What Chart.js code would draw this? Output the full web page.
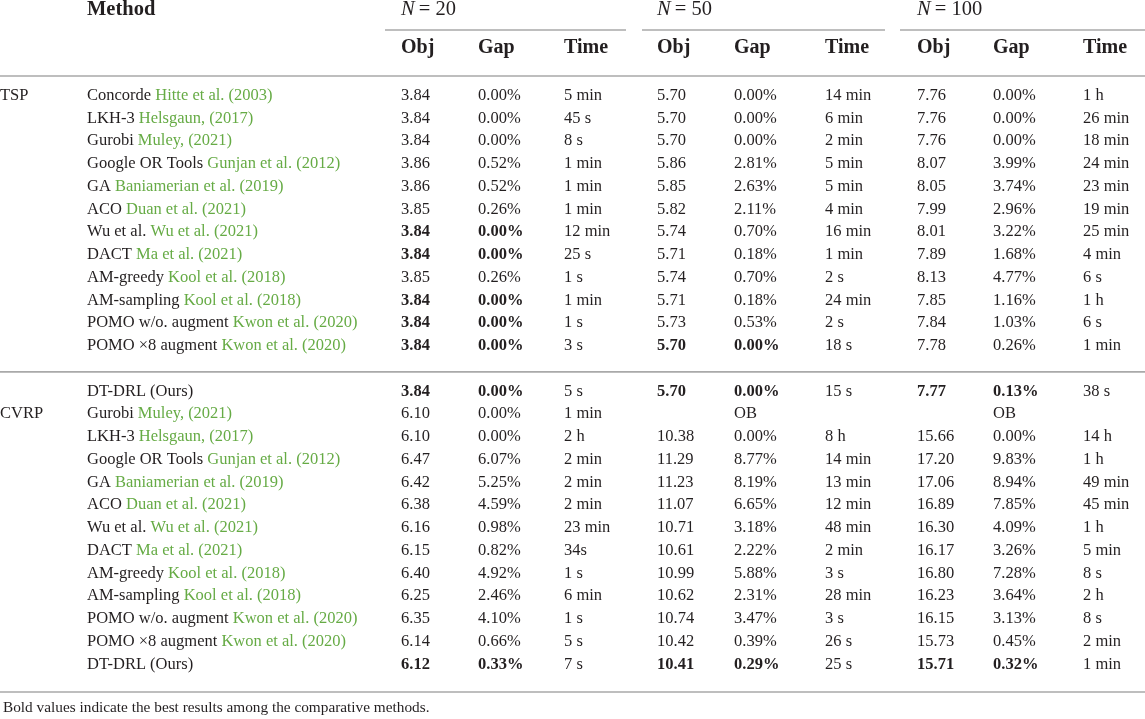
<!DOCTYPE html>
<html>
<head>
<meta charset="utf-8">
<script src="https://cdn.jsdelivr.net/npm/chart.js@4.4.0/dist/chart.umd.min.js"></script>
<style>
  html, body { margin: 0; padding: 0; background: #fff; }
  #wrap { width: 1145px; height: 719px; position: relative; }
</style>
</head>
<body>
<div id="wrap"><canvas id="tableChart"></canvas></div>
<script>
/* ══════════════════════════════
   TABLE DATA
══════════════════════════════ */
const methods = [
  'Concorde', 'LKH-3', 'Gurobi', 'Google OR Tools', 'GA', 'ACO', 'Wu et al.', 'DACT',
  'AM-greedy', 'AM-sampling', 'POMO w/o. augment', 'POMO \u00d78 augment',
  'DT-DRL (Ours)', 'Gurobi', 'LKH-3', 'Google OR Tools', 'GA', 'ACO', 'Wu et al.', 'DACT',
  'AM-greedy', 'AM-sampling', 'POMO w/o. augment', 'POMO \u00d78 augment', 'DT-DRL (Ours)'
];
const refs = [
  'Hitte et al. (2003)', 'Helsgaun, (2017)', 'Muley, (2021)', 'Gunjan et al. (2012)',
  'Baniamerian et al. (2019)', 'Duan et al. (2021)', 'Wu et al. (2021)', 'Ma et al. (2021)',
  'Kool et al. (2018)', 'Kool et al. (2018)', 'Kwon et al. (2020)', 'Kwon et al. (2020)',
  '', 'Muley, (2021)', 'Helsgaun, (2017)', 'Gunjan et al. (2012)',
  'Baniamerian et al. (2019)', 'Duan et al. (2021)', 'Wu et al. (2021)', 'Ma et al. (2021)',
  'Kool et al. (2018)', 'Kool et al. (2018)', 'Kwon et al. (2020)', 'Kwon et al. (2020)', ''
];
const problems = ['TSP', 'CVRP'];
const problemRows = [0, 13];
const sizes = ['20', '50', '100'];
const subHeads = ['Obj', 'Gap', 'Time'];

const obj20 = ['3.84', '3.84', '3.84', '3.86', '3.86', '3.85', '3.84', '3.84', '3.85', '3.84', '3.84', '3.84',
  '3.84', '6.10', '6.10', '6.47', '6.42', '6.38', '6.16', '6.15', '6.40', '6.25', '6.35', '6.14', '6.12'];
const gap20 = ['0.00%', '0.00%', '0.00%', '0.52%', '0.52%', '0.26%', '0.00%', '0.00%', '0.26%', '0.00%', '0.00%', '0.00%',
  '0.00%', '0.00%', '0.00%', '6.07%', '5.25%', '4.59%', '0.98%', '0.82%', '4.92%', '2.46%', '4.10%', '0.66%', '0.33%'];
const time20 = ['5 min', '45 s', '8 s', '1 min', '1 min', '1 min', '12 min', '25 s', '1 s', '1 min', '1 s', '3 s',
  '5 s', '1 min', '2 h', '2 min', '2 min', '2 min', '23 min', '34s', '1 s', '6 min', '1 s', '5 s', '7 s'];

const obj50 = ['5.70', '5.70', '5.70', '5.86', '5.85', '5.82', '5.74', '5.71', '5.74', '5.71', '5.73', '5.70',
  '5.70', '', '10.38', '11.29', '11.23', '11.07', '10.71', '10.61', '10.99', '10.62', '10.74', '10.42', '10.41'];
const gap50 = ['0.00%', '0.00%', '0.00%', '2.81%', '2.63%', '2.11%', '0.70%', '0.18%', '0.70%', '0.18%', '0.53%', '0.00%',
  '0.00%', 'OB', '0.00%', '8.77%', '8.19%', '6.65%', '3.18%', '2.22%', '5.88%', '2.31%', '3.47%', '0.39%', '0.29%'];
const time50 = ['14 min', '6 min', '2 min', '5 min', '5 min', '4 min', '16 min', '1 min', '2 s', '24 min', '2 s', '18 s',
  '15 s', '', '8 h', '14 min', '13 min', '12 min', '48 min', '2 min', '3 s', '28 min', '3 s', '26 s', '25 s'];

const obj100 = ['7.76', '7.76', '7.76', '8.07', '8.05', '7.99', '8.01', '7.89', '8.13', '7.85', '7.84', '7.78',
  '7.77', '', '15.66', '17.20', '17.06', '16.89', '16.30', '16.17', '16.80', '16.23', '16.15', '15.73', '15.71'];
const gap100 = ['0.00%', '0.00%', '0.00%', '3.99%', '3.74%', '2.96%', '3.22%', '1.68%', '4.77%', '1.16%', '1.03%', '0.26%',
  '0.13%', 'OB', '0.00%', '9.83%', '8.94%', '7.85%', '4.09%', '3.26%', '7.28%', '3.64%', '3.13%', '0.45%', '0.32%'];
const time100 = ['1 h', '26 min', '18 min', '24 min', '23 min', '19 min', '25 min', '4 min', '6 s', '1 h', '6 s', '1 min',
  '38 s', '', '14 h', '1 h', '49 min', '45 min', '1 h', '5 min', '8 s', '2 h', '8 s', '2 min', '1 min'];

// rows whose Obj and Gap are printed in bold
const best20 = [6, 7, 9, 10, 11, 12, 24];
const best50 = [11, 12, 24];
const best100 = [12, 24];

const footnote = 'Bold values indicate the best results among the comparative methods.';

/* ══════════════════════════════
   LAYOUT (scale units)
══════════════════════════════ */
const colX = [401, 478, 564, 657, 734, 825, 917, 993, 1083];
const groupSpans = [[385, 626], [642, 885], [900, 1145]];
const methodX = 87;
const problemX = 0;
const rowPos = i => (i < 12 ? i : i + 1);   // section gap before CVRP block
const Y_TOP = -3.78, Y_SUB = -2.09, Y_GROUPLINE = -2.88, Y_HEADLINE = -0.86;
const Y_MIDLINE = 12.15, Y_BOTLINE = 26.22, Y_NOTE = 26.92;

const INK = '#231f20';
const GREEN = '#66ab45';
const RULE = '#a9a9a9';
const SERIF = '"Liberation Serif", "Times New Roman", serif';

const columns = [
  [obj20, gap20, time20, best20],
  [obj50, gap50, time50, best50],
  [obj100, gap100, time100, best100]
];

/* ══════════════════════════════
   TABLE PLUGIN
══════════════════════════════ */
const tablePlugin = {
  id: 'tableText',
  afterDraw(chart) {
    const { ctx, scales: { x, y } } = chart;
    const px = v => x.getPixelForValue(v);
    const py = v => y.getPixelForValue(v);

    ctx.save();
    ctx.textBaseline = 'middle';
    ctx.textAlign = 'left';

    // rules
    ctx.strokeStyle = RULE;
    ctx.lineWidth = 1.6;
    const hline = (x0, x1, yv) => {
      ctx.beginPath();
      ctx.moveTo(px(x0), py(yv));
      ctx.lineTo(px(x1), py(yv));
      ctx.stroke();
    };
    groupSpans.forEach(s => hline(s[0], s[1], Y_GROUPLINE));
    [Y_HEADLINE, Y_MIDLINE, Y_BOTLINE].forEach(v => hline(0, 1145, v));

    // header
    ctx.fillStyle = INK;
    ctx.font = 'bold 20.5px ' + SERIF;
    ctx.fillText('Method', px(methodX), py(Y_TOP));
    sizes.forEach((s, g) => {
      const x0 = px(colX[g * 3]);
      ctx.font = 'italic 20.5px ' + SERIF;
      ctx.fillText('N', x0, py(Y_TOP));
      const w = ctx.measureText('N').width;
      ctx.font = '20.5px ' + SERIF;
      ctx.fillText('\u2009= ' + s, x0 + w, py(Y_TOP));
      ctx.font = 'bold 20px ' + SERIF;
      subHeads.forEach((h, k) => ctx.fillText(h, px(colX[g * 3 + k]), py(Y_SUB)));
    });

    // problem labels
    ctx.font = '16.5px ' + SERIF;
    problems.forEach((p, k) => {
      ctx.fillText(p, px(problemX), py(rowPos(problemRows[k])));
    });

    // body rows
    methods.forEach((m, i) => {
      const yy = py(rowPos(i));
      ctx.font = '16.5px ' + SERIF;
      ctx.fillStyle = INK;
      ctx.fillText(m, px(methodX), yy);
      if (refs[i]) {
        const w = ctx.measureText(m + ' ').width;
        ctx.fillStyle = GREEN;
        ctx.fillText(refs[i], px(methodX) + w, yy);
      }
      ctx.fillStyle = INK;
      columns.forEach((col, g) => {
        const bold = col[3].includes(i);
        for (let k = 0; k < 3; k++) {
          ctx.font = ((bold && k < 2) ? 'bold ' : '') + '16.5px ' + SERIF;
          ctx.fillText(col[k][i], px(colX[g * 3 + k]), yy);
        }
      });
    });

    // footnote
    ctx.font = '15.3px ' + SERIF;
    ctx.fillStyle = INK;
    ctx.fillText(footnote, px(3), py(Y_NOTE));
    ctx.restore();
  }
};

/* ══════════════════════════════
   CHART
══════════════════════════════ */
const tableCtx = document.getElementById('tableChart').getContext('2d');

new Chart(tableCtx, {
  type: 'scatter',
  data: { datasets: [{ data: [], pointRadius: 0 }] },
  options: {
    responsive: true,
    maintainAspectRatio: false,
    animation: false,
    layout: { padding: 0 },
    plugins: { legend: { display: false }, tooltip: { enabled: false } },
    scales: {
      x: { type: 'linear', display: false, min: 0, max: 1145 },
      y: { type: 'linear', display: false, reverse: true, min: -95.5 / 22.75, max: (719 - 95.5) / 22.75 }
    }
  },
  plugins: [tablePlugin]
});
</script>
</body>
</html>
